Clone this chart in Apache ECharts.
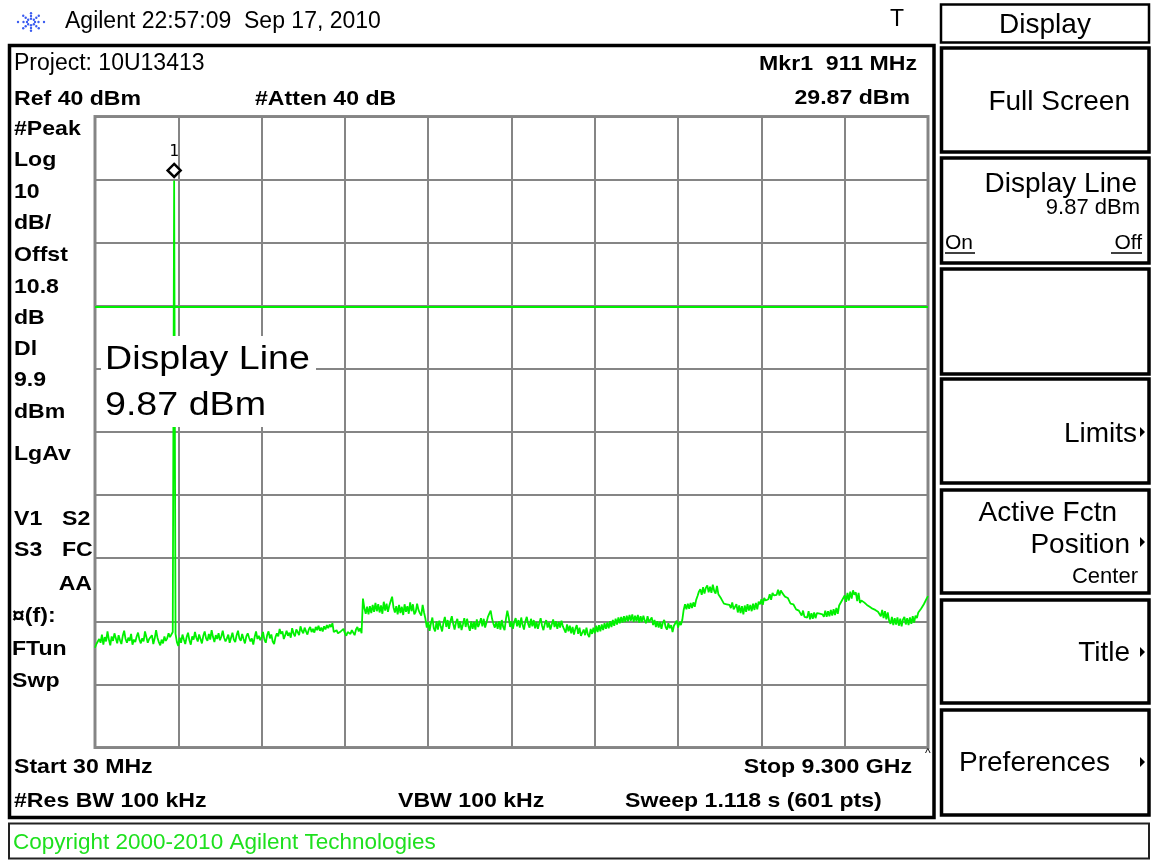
<!DOCTYPE html>
<html>
<head>
<meta charset="utf-8">
<script src="https://cdn.jsdelivr.net/npm/echarts@6/dist/echarts.min.js"></script>
<style>
  html, body { margin: 0; padding: 0; background: #ffffff; }
  #chart { width: 1151px; height: 861px; }
</style>
</head>
<body>
<div id="chart"></div>
<script>
// ---- Sweep settings -------------------------------------------------------
const startLabel = 'Start 30 MHz';
const stopLabel = 'Stop 9.300 GHz';
const sweepPoints = 601;
const refLevelDbm = 40;
const dbPerDiv = 10;
const divisions = 10;
const displayLineDbm = 9.87;
const markerIndex = 57;            // sweep point of Mkr1 (911 MHz)

// Peak-detected trace, dBm, one value per sweep point (0 .. 600)
const traceDbm = [
  -44.2,-43.6,-43.9,-42.8,-43.4,-42.1,-43.7,-42.5,-43.2,-41.6,-42.9,-43.8,-42.4,-43.1,-41.9,-42.7,-43.5,-42.2,-43.0,-43.6,
  -42.3,-41.5,-42.8,-43.4,-42.6,-43.1,-42.0,-43.7,-42.9,-43.3,-42.4,-41.8,-42.9,-43.5,-42.7,-43.2,-41.6,-42.5,-43.4,-42.8,
  -43.1,-42.2,-43.6,-42.7,-41.4,-42.6,-43.3,-43.8,-42.9,-43.5,-42.4,-43.1,-42.7,-41.9,-42.5,-42.8,-41.7,
  29.87,
  -42.0,-43.3,-43.9,-42.6,-43.4,-42.1,-42.9,-43.6,-42.5,-41.8,-43.0,-43.7,-42.4,-42.9,-41.7,-42.6,-43.2,-42.1,-42.8,-43.5,
  -42.3,-41.6,-42.7,-43.1,-42.0,-42.9,-41.4,-42.5,-43.3,-42.2,-42.8,-41.9,-43.0,-42.4,-41.5,-42.6,-43.2,-42.7,-42.1,-43.4,
  -42.6,-41.8,-42.9,-43.3,-42.2,-41.5,-42.7,-43.1,-42.0,-42.8,-43.5,-42.4,-41.9,-42.6,-43.2,-42.7,-43.7,-42.5,-41.6,-42.8,
  -42.3,-43.0,-42.5,-41.7,-42.9,-43.4,-42.2,-41.6,-42.7,-42.1,-43.2,-43.6,-42.5,-41.9,-42.4,-41.2,-42.0,-41.6,-42.8,-42.2,
  -41.5,-42.3,-41.8,-42.6,-41.1,-41.9,-42.4,-41.3,-41.7,-42.2,-40.8,-41.5,-41.9,-41.0,-41.6,-42.1,-41.3,-40.9,-41.7,-41.2,
  -41.8,-40.9,-41.4,-40.7,-41.5,-41.0,-41.6,-40.8,-41.3,-40.6,-41.1,-40.5,-40.9,-40.3,-41.7,-42.0,-41.4,-41.9,-42.1,-41.6,
  -41.8,-41.2,-41.9,-42.3,-41.7,-41.5,-42.0,-41.4,-41.8,-42.2,-41.3,-40.9,-41.6,-41.1,-41.9,
  -36.4,-37.9,-38.8,-37.7,-38.9,-37.6,-38.7,-37.4,-38.5,-37.1,-38.4,-37.3,-38.6,-37.5,-38.8,-36.9,-38.3,-37.2,-38.5,-37.5,
  -36.8,-36.1,-37.8,-38.6,-37.6,-38.9,-37.4,-38.7,-37.7,-39.0,-37.3,-38.5,-37.6,-38.8,-37.0,-38.4,-37.3,-38.9,-38.5,-37.2,-38.2,-38.7,-39.1,-37.4,-38.6,
  -39.6,-41.0,-40.1,-41.5,-40.3,-39.4,-41.1,-41.6,-40.0,-41.3,-39.9,-40.8,-41.6,-40.2,-39.3,-40.9,-39.8,-41.2,-40.0,-39.2,
  -40.4,-41.3,-40.2,-39.6,-41.1,-40.0,-41.4,-40.5,-39.5,-40.9,-39.6,-40.8,-41.5,-40.0,-41.2,-40.1,-41.3,-39.7,-40.9,-40.3,
  -39.5,-40.8,-39.6,-41.0,-40.2,-39.3,-38.8,-38.3,-39.6,-40.4,-41.0,-40.1,-41.2,-40.0,-41.3,-39.8,-40.9,-41.4,-39.6,-38.3,
  -39.4,-40.9,-40.0,-41.2,-40.1,-39.5,-40.8,-39.8,-41.0,-39.4,-40.6,-41.3,-40.0,-39.3,-40.4,-41.0,-39.6,-40.8,-39.8,-41.1,
  -40.1,-41.2,-40.3,-39.5,-40.7,-41.4,-40.4,-39.8,-41.0,-40.2,-41.3,-40.5,-39.7,-40.9,-40.0,-41.2,-40.1,-41.0,-39.9,-40.8,
  -40.6,-41.8,-40.5,-41.6,-40.7,-41.9,-40.9,-42.1,-41.2,-40.6,-42.0,-41.0,-42.3,-42.6,-41.3,-42.2,-41.0,-42.1,-42.5,-41.2,
  -42.0,-41.0,-41.9,-40.7,-41.7,-40.6,-41.6,-40.5,-41.4,-40.3,-41.2,-40.2,-41.1,-40.0,-40.9,-39.8,-40.7,-39.6,-40.5,-39.4,
  -40.3,-39.3,-40.2,-39.2,-40.1,-39.1,-40.0,-39.0,-39.9,-38.9,-40.1,-39.1,-40.0,-39.0,-40.2,-39.2,-40.1,-39.1,-39.9,-40.3,-39.2,-40.1,
  -40.4,-39.4,-40.6,-39.8,-40.9,-40.0,-41.0,-40.1,-41.2,-40.2,-39.8,-40.9,-41.3,-40.3,-41.1,-40.6,-41.7,-40.7,-40.3,-39.9,-41.0,-40.1,-40.6,-39.8,
  -38.2,-37.3,-38.1,-37.2,-38.0,-37.1,-37.9,-37.0,-37.7,-36.6,-36.0,-35.3,-34.9,-35.8,-34.6,-35.6,-34.7,-34.3,-35.4,-34.5,-35.5,-34.2,-35.2,-35.6,
  -34.4,-35.7,-35.5,-36.4,-36.2,-37.2,-36.9,-37.3,-37.1,-37.4,-37.9,-37.0,-38.1,-38.4,-37.3,-38.6,-37.5,-38.7,-37.6,-38.9,-37.5,-38.5,-37.3,-38.3,
  -37.4,-38.4,-37.2,-38.2,-37.1,-38.1,-36.9,-37.3,-36.5,-37.4,-36.3,-36.7,-36.4,-36.5,-35.7,-36.6,-35.5,-35.9,-35.6,-35.8,-35.0,-35.9,-35.1,-35.5,
  -35.2,-36.1,-35.9,-36.3,-36.2,-37.2,-36.9,-37.3,-37.2,-38.1,-37.9,-38.3,-38.2,-39.1,-38.3,-39.3,-39.0,-39.4,-38.4,-39.7,-38.7,-39.6,-38.6,-39.5,
  -38.7,-39.0,-38.8,-39.1,-38.9,-39.3,-38.3,-39.3,-38.4,-39.2,-38.2,-39.1,-38.1,-39.0,-37.9,-38.8,-37.5,-37.7,-36.7,-36.9,
  -35.9,-36.9,-35.5,-36.7,-35.3,-36.4,-35.1,-35.8,-35.4,-36.8,-35.5,-37.1,-36.7,-36.9,-37.0,-37.3,-37.4,-37.6,-37.7,-38.0,-38.0,-38.3,-38.2,-38.5,
  -38.5,-38.7,-39.2,-38.2,-39.5,-38.4,-39.7,-38.6,-39.9,-40.4,-39.3,-40.6,-39.5,-40.5,-39.4,-40.7,-39.6,-40.8,-39.7,-39.3,
  -40.5,-39.5,-40.6,-39.4,-40.4,-39.2,-40.2,-39.1,-39.5,-38.6,-38.9,-38.0,-38.3,-37.3,-37.5,-36.4,-36.0
];

// ---- Screen text ------------------------------------------------------------
const headerText = 'Agilent 22:57:09  Sep 17, 2010';
const projectText = 'Project: 10U13413';
const refText = 'Ref 40 dBm';
const attenText = '#Atten 40 dB';
const markerFreqText = 'Mkr1  911 MHz';
const markerLevelText = '29.87 dBm';
const sideLabels = ['#Peak', 'Log', '10', 'dB/', 'Offst', '10.8', 'dB', 'Dl', '9.9', 'dBm', 'LgAv'];
const statusLabels = ['\u00a4(f):', 'FTun', 'Swp'];
const bottomRow = ['#Res BW 100 kHz', 'VBW 100 kHz', 'Sweep 1.118 s (601 pts)'];
const displayLineNote = ['Display Line', '9.87 dBm'];
const softkeyTitle = 'Display';
const copyrightText = 'Copyright 2000-2010 Agilent Technologies';

// ---- Layout helpers ---------------------------------------------------------
const SANS = '"Liberation Sans", Arial, sans-serif';
const BOLD = 'bold 21px ' + SANS;
const BOLD_SCALE = 1.1;

function txt(x, y, text, font, opts) {
  opts = opts || {};
  return {
    type: 'text', x: x, y: y, z: 30,
    scaleX: opts.scaleX || 1,
    silent: true,
    style: {
      text: text, font: font, fill: opts.fill || '#000',
      textAlign: opts.align || 'left', textVerticalAlign: 'middle'
    }
  };
}
function box(x, y, w, h, lw, stroke) {
  return {
    type: 'rect', z: 25, silent: true,
    shape: { x: x, y: y, width: w, height: h },
    style: { fill: 'none', stroke: stroke || '#000', lineWidth: lw }
  };
}
function arrow(x, y) {
  return {
    type: 'polygon', z: 30, silent: true,
    shape: { points: [[x, y - 5], [x + 5, y], [x, y + 5]] },
    style: { fill: '#000' }
  };
}

const g = [];

// Agilent spark logo
(function () {
  const cx = 31, cy = 22;
  for (let k = 0; k < 8; k++) {
    const a = k * Math.PI / 4;
    const rx = (k % 4 === 0) ? 13 : 11;
    [4, 7.5, rx].forEach(function (r) {
      g.push({ type: 'circle', z: 30, silent: true,
        shape: { cx: cx + Math.cos(a) * r, cy: cy + Math.sin(a) * r * 0.8, r: 1.2 },
        style: { fill: '#3b5cf0' } });
    });
  }
})();

// Header line
g.push(txt(65, 21.5, headerText, '23px ' + SANS));
g.push(txt(890, 20, 'T', '23px ' + SANS));

// Main measurement frame
g.push(box(9.5, 45.5, 924.5, 772, 3.5));
g.push(txt(14, 64, projectText, '23px ' + SANS));
g.push(txt(14, 99, refText, BOLD, { scaleX: BOLD_SCALE }));
g.push(txt(255, 99, attenText, BOLD, { scaleX: BOLD_SCALE }));
g.push(txt(917, 64.5, markerFreqText, BOLD, { scaleX: BOLD_SCALE, align: 'right' }));
g.push(txt(910, 98.5, markerLevelText, BOLD, { scaleX: BOLD_SCALE, align: 'right' }));

const sideY = [129.5, 160.5, 192, 223.5, 255.5, 287, 318, 349.5, 380.5, 412, 454];
sideLabels.forEach(function (s, i) { g.push(txt(14, sideY[i], s, BOLD, { scaleX: BOLD_SCALE })); });
g.push(txt(14, 519.5, 'V1', BOLD, { scaleX: BOLD_SCALE }));
g.push(txt(62, 519.5, 'S2', BOLD, { scaleX: BOLD_SCALE }));
g.push(txt(14, 550.5, 'S3', BOLD, { scaleX: BOLD_SCALE }));
g.push(txt(62, 550.5, 'FC', BOLD, { scaleX: BOLD_SCALE }));
g.push(txt(92, 584.5, 'AA', BOLD, { scaleX: BOLD_SCALE, align: 'right' }));
const statusY = [616, 649.5, 681];
statusLabels.forEach(function (s, i) { g.push(txt(12, statusY[i], s, BOLD, { scaleX: BOLD_SCALE })); });

g.push(txt(14, 767, startLabel, BOLD, { scaleX: BOLD_SCALE }));
g.push(txt(912, 767, stopLabel, BOLD, { scaleX: BOLD_SCALE, align: 'right' }));
g.push(txt(925, 754, '^', '12px ' + SANS));
g.push(txt(14, 801, bottomRow[0], BOLD, { scaleX: BOLD_SCALE }));
g.push(txt(398, 801, bottomRow[1], BOLD, { scaleX: BOLD_SCALE }));
g.push(txt(625, 801, bottomRow[2], BOLD, { scaleX: BOLD_SCALE }));

// Display line annotation, drawn over the graticule on a white card
g.push({ type: 'rect', z: 28, silent: true,
  shape: { x: 101, y: 336, width: 215, height: 91 }, style: { fill: '#fff' } });
g.push(txt(105, 360, displayLineNote[0], '33px ' + SANS, { scaleX: 1.14 }));
g.push(txt(105, 406, displayLineNote[1], '33px ' + SANS, { scaleX: 1.14 }));

// Softkey panel
const SK = '28px ' + SANS;
g.push(box(941, 4.5, 208, 38, 2.5));
g.push(txt(1045, 25, softkeyTitle, SK, { align: 'center' }));
const keyBoxes = [[48, 104], [158, 105], [269, 105], [379, 104], [490, 103], [600, 103], [710, 105]];
keyBoxes.forEach(function (b) { g.push(box(941.5, b[0], 207.5, b[1], 3.5)); });
g.push(txt(1130, 102.5, 'Full Screen', SK, { align: 'right' }));
g.push(txt(1137, 184, 'Display Line', SK, { align: 'right' }));
g.push(txt(1140, 207.5, '9.87 dBm', '22px ' + SANS, { align: 'right' }));
g.push(txt(945, 243, 'On', '21px ' + SANS));
g.push(txt(1142, 243, 'Off', '21px ' + SANS, { align: 'right' }));
g.push({ type: 'line', z: 30, silent: true, shape: { x1: 945, y1: 253, x2: 975, y2: 253 }, style: { stroke: '#000', lineWidth: 1.5 } });
g.push({ type: 'line', z: 30, silent: true, shape: { x1: 1111, y1: 253, x2: 1142, y2: 253 }, style: { stroke: '#000', lineWidth: 1.5 } });
g.push(txt(1137, 434, 'Limits', SK, { align: 'right' }));
g.push(arrow(1140, 432));
g.push(txt(1117, 513, 'Active Fctn', SK, { align: 'right' }));
g.push(txt(1130, 545, 'Position', SK, { align: 'right' }));
g.push(arrow(1140, 542));
g.push(txt(1138, 577, 'Center', '22px ' + SANS, { align: 'right' }));
g.push(txt(1130, 653, 'Title', SK, { align: 'right' }));
g.push(arrow(1140, 652));
g.push(txt(1110, 763, 'Preferences', SK, { align: 'right' }));
g.push(arrow(1140, 762));

// Copyright strip
g.push(box(9, 823.5, 1140, 35, 2, '#222'));
g.push(txt(13, 843, copyrightText, '22.5px ' + SANS, { fill: '#1ee01e' }));

// ---- Chart ------------------------------------------------------------------
const chart = echarts.init(document.getElementById('chart'), null, { renderer: 'canvas' });
const bottomDbm = refLevelDbm - dbPerDiv * divisions;
const lastPoint = sweepPoints - 1;

chart.setOption({
  animation: false,
  backgroundColor: '#ffffff',
  grid: {
    left: 95, top: 116.5, width: 833, height: 631,
    show: true, borderColor: '#8a8a8a', borderWidth: 3, backgroundColor: 'transparent'
  },
  xAxis: {
    type: 'value', min: 0, max: lastPoint, interval: lastPoint / divisions,
    axisLine: { show: false }, axisTick: { show: false }, axisLabel: { show: false },
    splitLine: { show: true, lineStyle: { color: '#858585', width: 2 } }
  },
  yAxis: {
    type: 'value', min: bottomDbm, max: refLevelDbm, interval: dbPerDiv,
    axisLine: { show: false }, axisTick: { show: false }, axisLabel: { show: false },
    splitLine: { show: true, lineStyle: { color: '#858585', width: 2 } }
  },
  series: [{
    type: 'line',
    data: traceDbm.map(function (v, i) { return [i, v]; }),
    showSymbol: false,
    symbol: 'none',
    z: 5,
    lineStyle: { color: '#00f000', width: 1.8 },
    markLine: {
      silent: true, symbol: 'none',
      label: { show: false },
      lineStyle: { color: '#00f000', width: 1.8, type: 'solid' },
      data: [{ yAxis: displayLineDbm }]
    },
    markPoint: {
      silent: true,
      symbol: 'diamond', symbolSize: 13, symbolOffset: [0, -10],
      itemStyle: { color: '#ffffff', borderColor: '#000000', borderWidth: 2.5 },
      data: [{
        coord: [markerIndex, traceDbm[markerIndex]],
        label: {
          show: true, position: 'top', distance: 3, formatter: '1',
          color: '#000', fontSize: 16, fontFamily: '"DejaVu Sans Mono", monospace'
        }
      }]
    }
  }],
  graphic: { elements: g }
});
</script>
</body>
</html>
